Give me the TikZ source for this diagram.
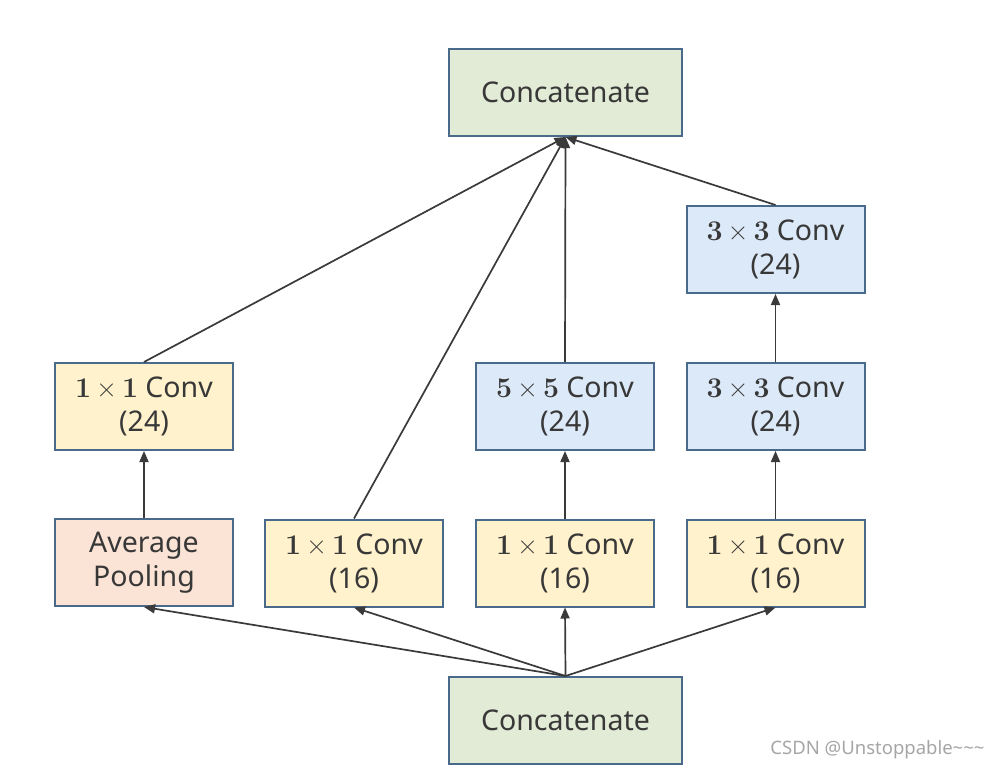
\documentclass[tikz,border=0pt]{standalone}
\usepackage[no-math]{fontspec}
\setmainfont{Noto Sans}
\newfontfamily\lmr{Latin Modern Roman}
\usetikzlibrary{arrows.meta}
\definecolor{bord}{HTML}{4A6A8C}
\definecolor{gfill}{HTML}{E2EBD6}
\definecolor{yfill}{HTML}{FFF2CC}
\definecolor{pfill}{HTML}{FBE3D6}
\definecolor{bfill}{HTML}{DCE9F8}
\definecolor{txt}{HTML}{383838}
\definecolor{arr}{HTML}{3A3A3A}
\newcommand{\kxk}[1]{{\lmr\bfseries #1}\hspace{0.18em}{\lmr ×}\hspace{0.18em}{\lmr\bfseries #1}}
\tikzset{
  box/.style={draw=bord, line width=2pt, minimum width=178pt, minimum height=87pt,
    inner sep=0pt, align=center, text=txt, font=\fontsize{28.5}{34}\selectfont},
  catbox/.style={box, fill=gfill, minimum width=233pt},
  ybox/.style={box, fill=yfill},
  pbox/.style={box, fill=pfill},
  bbox/.style={box, fill=bfill},
  conn/.style={draw=arr, line width=1.7pt, -{Triangle[length=11pt,width=9pt]}}
}
\begin{document}
\begin{tikzpicture}[x=1pt,y=-1pt]
\useasboundingbox (0,0) rectangle (1000,771);
\fill[white] (0,0) rectangle (1000,771);
\node[catbox] (topcat) at (565.5,92.5) {Concatenate};
\node[bbox] (c33b) at (775.5,249.5) {\kxk{3} Conv\\(24)};
\node[ybox] (c11a) at (144,406.5) {\kxk{1} Conv\\(24)};
\node[bbox] (c55) at (565,406.5) {\kxk{5} Conv\\(24)};
\node[bbox] (c33a) at (775.5,406.5) {\kxk{3} Conv\\(24)};
\node[pbox] (pool) at (144,562.5) {Average\\Pooling};
\node[ybox] (c11b) at (354,563) {\kxk{1} Conv\\(16)};
\node[ybox] (c11c) at (565,563) {\kxk{1} Conv\\(16)};
\node[ybox] (c11d) at (775.5,563) {\kxk{1} Conv\\(16)};
\node[catbox] (botcat) at (565.5,720.5) {Concatenate};
% bottom fan
\draw[conn] (botcat.north) -- (pool.south);
\draw[conn] (botcat.north) -- (c11b.south);
\draw[conn] (botcat.north) -- (c11c.south);
\draw[conn] (botcat.north) -- (c11d.south);
% middle
\draw[conn] (pool.north) -- (c11a.south);
\draw[conn] (c11c.north) -- (c55.south);
\draw[conn] (c11d.north) -- (c33a.south);
\draw[conn] (c33a.north) -- (c33b.south);
% top fan
\draw[conn] (c11a.north) -- (topcat.south);
\draw[conn] (c11b.north) -- (topcat.south);
\draw[conn] (c55.north) -- (topcat.south);
\draw[conn] (c33b.north) -- (topcat.south);
\node[text=gray!70, font=\fontsize{18.5}{22}\selectfont, anchor=east] (wm) at (988,750) {CSDN @Unstoppable\char`\~\char`\~\char`\~};
\end{tikzpicture}
\end{document}
